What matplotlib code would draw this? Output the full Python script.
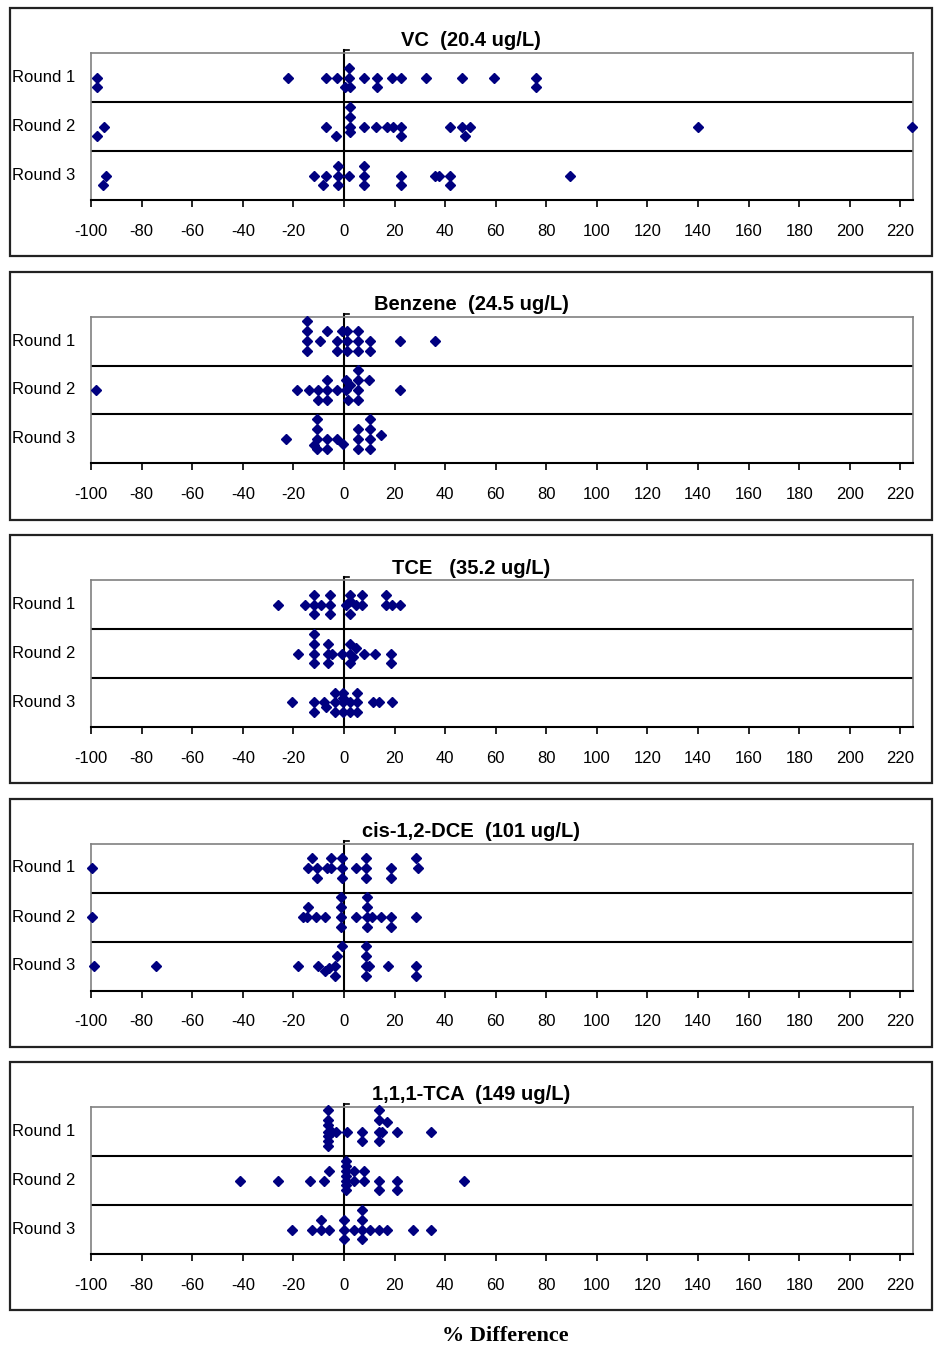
import numpy as np
import matplotlib
matplotlib.use("Agg")
import matplotlib.pyplot as plt
from matplotlib.patches import Rectangle
import matplotlib.transforms as mtransforms

"""
    % difference by round, one panel per compound (dot plot)
"""

# panel titles
titles = ["VC  (20.4 ug/L)", "Benzene  (24.5 ug/L)", "TCE   (35.2 ug/L)",
          "cis-1,2-DCE  (101 ug/L)", "1,1,1-TCA  (149 ug/L)"]
rounds = ["Round 1", "Round 2", "Round 3"]
tick_vals = list(range(-100, 221, 20))

# % difference values; *_lvl = stacking level of each dot (+ up, - down)
vc_r1_x = [-97.5, -97.5, -22.1, -7.2, -2.6, 2.0, 2.0, 0.5, 2.5, 7.9, 12.9, 12.9,
           19.1, 22.4, 32.3, 46.8, 59.3, 75.8, 75.8]
vc_r1_lvl = [0, -1, 0, 0, 0, 1, 0, -1, -1, 0, 0, -1, 0, 0, 0, 0, 0, 0, -1]
vc_r2_x = [-94.9, -97.5, -7.2, -3.3, 2.6, 2.6, 2.6, 2.6, 7.9, 12.5, 17.1, 19.5,
           22.4, 22.4, 41.8, 46.8, 50.0, 47.8, 140.0, 224.5]
vc_r2_lvl = [0, -1, 0, -1, 2, 1, 0, -0.6, 0, 0, 0, 0, 0, -1, 0, 0, 0, -1, 0, 0]
vc_r3_x = [-94.0, -95.3, -11.9, -7.2, -8.4, -2.2, -2.2, -2.2, 2.2, 7.9, 7.9, 7.9,
           22.4, 22.4, 36.2, 37.5, 41.8, 41.8, 89.3]
vc_r3_lvl = [0, -1, 0, 0, -1, 1, 0, -1, 0, 1, 0, -1, 0, -1, 0, 0, 0, -1, 0]

bz_r1_x = [-14.5, -14.5, -14.5, -14.5, -6.6, -9.6, -2.6, -2.6, -0.8, 1.3, 1.3, 1.3,
           5.7, 5.7, 5.7, 10.5, 10.5, 22.1, 36.0]
bz_r1_lvl = [2, 1, 0, -1, 1, 0, 0, -1, 1, 1, 0, -1, 1, 0, -1, 0, -1, 0, 0]
bz_r2_x = [-98.2, -18.4, -13.8, -10.3, -10.3, -6.6, -6.6, -6.6, -2.6, 0.7, 0.7, 1.6,
           2.5, 5.7, 5.7, 5.7, 5.7, 9.9, 22.1]
bz_r2_lvl = [0, 0, 0, 0, -1, 1, 0, -1, 0, 1, 0, -1, 0.5, 2, 1, 0, -1, 1, 0]
bz_r3_x = [-22.8, -10.5, -10.5, -10.5, -10.5, -11.9, -6.6, -6.6, -2.6, -0.3,
           5.7, 5.7, 5.7, 10.5, 10.5, 10.5, 10.5, 14.5]
bz_r3_lvl = [0, 2, 1, 0, -1, -0.6, 0, -1, 0, -0.5, 1, 0, -1, 2, 1, 0, -1, 0.4]

tce_r1_x = [-26.1, -15.4, -11.9, -11.9, -11.9, -9.2, -5.5, -5.5, -5.5, 0.7, 2.6,
            2.6, 2.6, 4.6, 7.2, 7.2, 16.5, 16.5, 19.1, 22.1]
tce_r1_lvl = [0, 0, 1, 0, -1, 0, 1, 0, -1, 0, 1, 0.4, -1, 0, 1, 0, 1, 0, 0, 0]
tce_r2_x = [-18.2, -11.9, -11.9, -11.9, -11.9, -6.3, -6.3, -6.3, -4.6, -0.7, 2.6,
            2.6, 2.6, 3.7, 4.6, 7.9, 12.1, 18.7, 18.7]
tce_r2_lvl = [0, 2, 1, 0, -1, 1, 0, -1, 0, 0, 1, 0, -1, -0.4, 0.6, 0, 0, 0, -1]
tce_r3_x = [-20.4, -11.9, -11.9, -7.9, -6.9, -3.7, -3.7, -3.7, -0.3, -0.3, -0.3,
            -0.3, 2.6, 2.6, 5.3, 5.3, 5.3, 11.5, 13.8, 19.1]
tce_r3_lvl = [0, 0, -1, 0, -0.5, 1, 0, -1, 1, 0.5, 0, -1, 0, -1, 1, 0, -1, 0, 0, 0]

dce_r1_x = [-99.7, -12.5, -14.1, -10.5, -10.5, -6.6, -5.0, -5.0, -0.7, -0.7, -0.7,
            4.6, 8.8, 8.8, 8.8, 18.7, 18.7, 28.6, 29.4]
dce_r1_lvl = [0, 1, 0, 0, -1, 0, 1, 0, 1, 0, -1, 0, 1, 0, -1, 0, -1, 1, 0]
dce_r2_x = [-99.7, -14.1, -16.2, -14.5, -10.9, -7.6, -1.1, -1.1, -1.1, -1.1, 4.6,
            9.2, 9.2, 9.2, 9.2, 11.2, 14.5, 18.7, 18.7, 28.6]
dce_r2_lvl = [0, 1, 0, 0, 0, 0, 2, 1, 0, -1, 0, 2, 1, 0, -1, 0, 0, 0, -1, 0]
dce_r3_x = [-98.8, -74.4, -18.2, -10.3, -7.6, -5.9, -3.6, -3.6, -2.6, -0.7, 8.8,
            8.8, 8.8, 8.8, 10.0, 17.5, 28.6, 28.6]
dce_r3_lvl = [0, 0, 0, 0, -0.5, -0.2, 0, -1, 1, 2, 2, 1, 0, -1, 0, 0, 0, -1]

tca_r1_x = [-6.2, -6.2, -6.2, -6.2, -6.2, -6.2, -6.2, -4.6, -3.3, 1.3, 7.2, 7.2,
            13.8, 13.8, 13.8, 13.8, 16.9, 15.2, 20.8, 34.3]
tca_r1_lvl = [2.2, 1.2, 0.7, 0, -0.5, -1, -1.5, 0, 0, 0, 0, -1, 2.2, 1.2, 0, -1,
              1, 0, 0, 0]
tca_r2_x = [-41.1, -26.1, -13.4, -7.9, -5.9, 0.7, 0.7, 0.7, 0.7, 0.7, 0.7, 0.7,
            4.0, 4.0, 7.9, 7.9, 13.8, 13.8, 20.8, 20.8, 47.4]
tca_r2_lvl = [0, 0, 0, 0, 1, 2, 1.5, 1, 0.5, 0, -0.5, -1, 1, 0, 1, 0, 0, -1, 0,
              -1, 0]
tca_r3_x = [-20.4, -12.5, -9.2, -9.2, -5.9, 0.0, 0.0, 0.0, 4.0, 7.0, 7.0, 7.0, 7.0,
            10.5, 13.8, 17.1, 27.4, 34.3]
tca_r3_lvl = [0, 0, 1, 0, 0, 1, 0, -1, 0, 2, 1, 0, -1, 0, 0, 0, 0, 0]

panels = [
    [(vc_r1_x, vc_r1_lvl), (vc_r2_x, vc_r2_lvl), (vc_r3_x, vc_r3_lvl)],
    [(bz_r1_x, bz_r1_lvl), (bz_r2_x, bz_r2_lvl), (bz_r3_x, bz_r3_lvl)],
    [(tce_r1_x, tce_r1_lvl), (tce_r2_x, tce_r2_lvl), (tce_r3_x, tce_r3_lvl)],
    [(dce_r1_x, dce_r1_lvl), (dce_r2_x, dce_r2_lvl), (dce_r3_x, dce_r3_lvl)],
    [(tca_r1_x, tca_r1_lvl), (tca_r2_x, tca_r2_lvl), (tca_r3_x, tca_r3_lvl)],
]

W, H = 934, 1351
STEP = 0.2      # vertical size of one stacking level (row height = 1)
NAVY = "#000080"
FONT = ["Liberation Sans", "DejaVu Sans"]


def draw_panel(fig, i, title, data):
    off = 263.5 * i

    # outer chart box
    fig.patches.append(Rectangle((10 / W, 1 - (256 + off) / H), 922 / W, 248 / H,
                                 transform=fig.transFigure, fill=False,
                                 edgecolor="#222222", linewidth=1.6))

    ax = fig.add_axes([91 / W, 1 - (200 + off) / H, 822 / W, 147 / H])
    ax.set_xlim(-100, 225)
    ax.set_ylim(0, 3)

    # row separators and zero line (value axis crosses at 0)
    ax.axhline(1, color="black", lw=1.5, zorder=1)
    ax.axhline(2, color="black", lw=1.5, zorder=1)
    ax.plot([0, 0], [0, 3.06], color="black", lw=1.5, zorder=1, clip_on=False)
    ax.plot([0, 2], [3.06, 3.06], color="black", lw=1.2, zorder=1, clip_on=False)

    for k, (xs, lv) in enumerate(data):
        center = 2.5 - k
        ys = center + STEP * np.array(lv)
        ax.plot(xs, ys, "D", color=NAVY, ms=5.5, mec=NAVY, zorder=3,
                clip_on=False)

    trans = mtransforms.blended_transform_factory(ax.transAxes, ax.transData)
    for k, lab in enumerate(rounds):
        ax.text(-0.0955, 2.5 - k, lab, transform=trans, ha="left", va="center",
                fontsize=12, family=FONT)

    ax.set_xticks(tick_vals)
    ax.set_xticklabels([str(v) for v in tick_vals], family=FONT, fontsize=12)
    ax.set_yticks([])
    ax.tick_params(axis="x", direction="out", length=5, width=1.2, pad=12)
    for s in ["left", "top", "right"]:
        ax.spines[s].set_color("#808080")
        ax.spines[s].set_linewidth(1.2)
    ax.spines["bottom"].set_linewidth(1.5)

    fig.text(471 / W, 1 - (41 + off) / H, title, ha="center", va="center",
             fontsize=14.5, fontweight="bold", family=FONT)


def main():
    fig = plt.figure(figsize=(W / 100, H / 100), dpi=100)
    for i in range(5):
        draw_panel(fig, i, titles[i], panels[i])

    fig.text(505 / W, 1 - 1336 / H, "% Difference", ha="center", va="center",
             fontsize=16, fontweight="bold",
             family=["Liberation Serif", "DejaVu Serif"])
    fig.savefig("out.png", dpi=100)


if __name__ == "__main__":
    main()
